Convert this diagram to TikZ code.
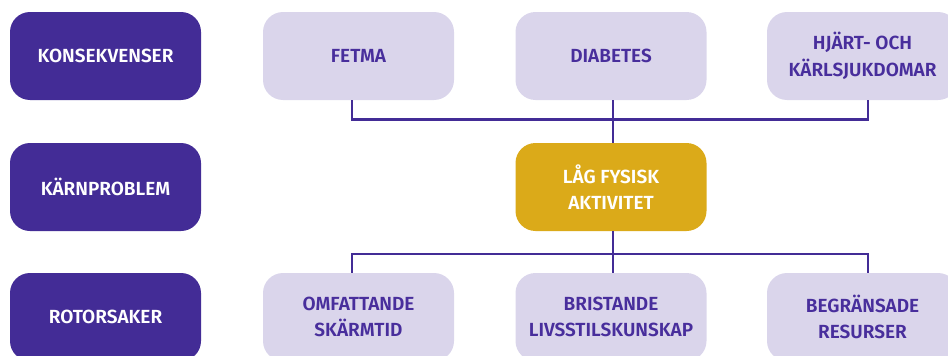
\documentclass[tikz,border=0pt]{standalone}
\usepackage{fontspec}
\setmainfont{Fira Sans}[BoldFont={Fira Sans SemiBold}]
\definecolor{deep}{RGB}{67,44,150}
\definecolor{lilac}{RGB}{218,213,235}
\definecolor{gold}{RGB}{219,170,25}
\definecolor{ink}{RGB}{72,46,156}
\tikzset{
  box/.style={rounded corners=20pt, minimum width=191pt, minimum height=88pt,
    inner sep=0pt, align=center, font=\fontsize{19}{26.5}\selectfont\bfseries},
  levelbox/.style={box, fill=deep, text=white},
  effectbox/.style={box, fill=lilac, text=ink},
  corebox/.style={box, fill=gold, text=white},
  conn/.style={draw=deep, line width=2.6pt}
}
\begin{document}
\begin{tikzpicture}[x=1pt, y=-1pt]
  \clip (0,0) rectangle (948,356);
  % row labels
  \node[levelbox] (lvl1) at (105.5,56) {KONSEKVENSER};
  \node[levelbox] (lvl2) at (105.5,187) {KÄRNPROBLEM};
  \node[levelbox] (lvl3) at (105.5,317) {ROTORSAKER};
  % consequences
  \node[effectbox] (fetma) at (358.5,56) {FETMA};
  \node[effectbox] (diab) at (611,56) {DIABETES};
  \node[effectbox] (hjart) at (862.5,56) {HJÄRT- OCH\\KÄRLSJUKDOMAR};
  % core problem
  \node[corebox] (core) at (611,187) {LÅG FYSISK\\AKTIVITET};
  % root causes
  \node[effectbox] (omf) at (358.5,317) {OMFATTANDE\\SKÄRMTID};
  \node[effectbox] (brist) at (611,317) {BRISTANDE\\LIVSSTILSKUNSKAP};
  \node[effectbox] (beg) at (862.5,317) {BEGRÄNSADE\\RESURSER};
  % connectors above the core problem
  \draw[conn] ([xshift=-6.5pt]fetma.south) -- ++(0,19) -| ([xshift=5.5pt]hjart.south);
  \draw[conn] ([xshift=2pt]diab.south) -- ([xshift=2pt]core.north);
  % connectors below the core problem
  \draw[conn] ([xshift=-6.5pt]omf.north) -- ++(0,-19) -| ([xshift=5.5pt]beg.north);
  \draw[conn] ([xshift=2pt]core.south) -- ([xshift=2pt]brist.north);
\end{tikzpicture}
\end{document}
